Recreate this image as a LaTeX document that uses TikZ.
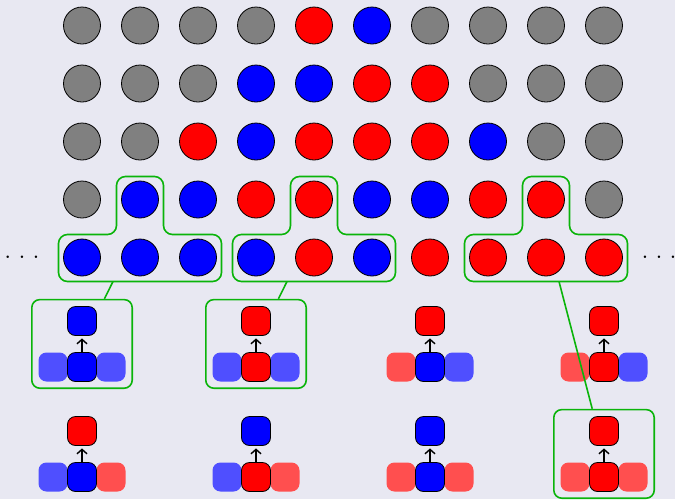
\documentclass[tikz,border=0pt]{standalone}
\usetikzlibrary{arrows.meta,fit}
\definecolor{bg}{RGB}{232,232,242}
\definecolor{grn}{RGB}{10,180,10}
\begin{document}
\begin{tikzpicture}[x=1pt,y=-1pt,
  ball/.style={circle,draw,line width=0.8pt,minimum size=37,inner sep=0},
  tile/.style={rounded corners=8pt,minimum size=29,inner sep=0},
  hi/.style={tile,draw,line width=0.8pt},
  tshape/.style={draw=grn,line width=1.6pt,rounded corners=9pt},
  frame/.style={draw=grn,line width=1.6pt,rounded corners=8pt,inner sep=6.5pt},
  link/.style={draw=grn,line width=1.6pt},
  up/.style={-{Straight Barb[length=4.5pt,width=10pt]},line width=1.4pt,shorten <=0.5pt,shorten >=2.5pt}]
\fill[bg] (0,0) rectangle (675,499);
\useasboundingbox (0,0) rectangle (675,499);
% sites of the chain
\foreach \row [count=\j from 0] in {
  {gray,gray,gray,gray,red,blue,gray,gray,gray,gray},
  {gray,gray,gray,blue,blue,red,red,gray,gray,gray},
  {gray,gray,red,blue,red,red,red,blue,gray,gray},
  {gray,blue,blue,red,red,blue,blue,red,red,gray},
  {blue,blue,blue,blue,red,blue,red,red,red,red}}
  \foreach \c [count=\i from 1] in \row
    \node[ball,fill=\c] (b\j-\i) at (24+58*\i,25.5+58*\j) {};
\node[font=\LARGE\bfseries] (ldots) at (22,257) {. . .};
\node[font=\LARGE\bfseries] (rdots) at (659,257) {. . .};
% neighbourhoods
\foreach \k/\s/\n in {2/-27/1,5/-27/2,9/13/3}{
  \begin{scope}[shift={(b3-\k.center)}]
    \draw[tshape] (-81.5,82) -- (-81.5,35) -- (-23.5,35) -- (-23.5,-23) -- (23.5,-23)
      -- (23.5,35) -- (81.5,35) -- (81.5,82) -- cycle;
    \coordinate (t\n) at (\s,82);
  \end{scope}}
% update rules
\foreach \n/\x/\y/\t/\l/\m/\r in {1/82/321/blue/blue/blue/blue,2/256/321/red/blue/red/blue,
  3/430/321/red/red/blue/blue,4/604/321/red/red/red/blue,5/82/431/red/blue/blue/red,
  6/256/431/blue/blue/red/red,7/430/431/blue/red/blue/red,8/604/431/red/red/red/red}{
  \node[tile,fill=\l!69] (l\n) at (\x-29,\y+46) {};
  \node[tile,fill=\r!69] (r\n) at (\x+29,\y+46) {};
  \node[hi,fill=\m] (m\n) at (\x,\y+46) {};
  \node[hi,fill=\t] (u\n) at (\x,\y) {};
  \draw[up] (m\n) -- (u\n);}
\foreach \n in {1,2,8}
  \node[frame,fit=(l\n)(r\n)(u\n)] (f\n) {};
\draw[link] (t1) -- (f1);
\draw[link] (t2) -- (f2);
\draw[link] (t3) -- (f8);
\end{tikzpicture}
\end{document}
